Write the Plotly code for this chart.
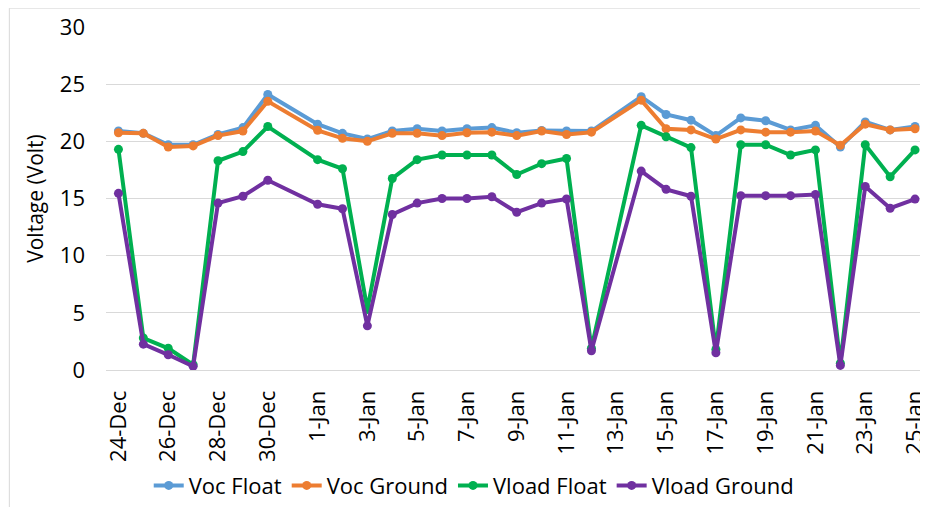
'''
    Voltage line chart, Voc / Vload for float and ground mounting.
'''

import plotly.graph_objects as go

dates = ['2018-12-24', '2018-12-25', '2018-12-26', '2018-12-27', '2018-12-28',
         '2018-12-29', '2018-12-30', '2019-01-01', '2019-01-02', '2019-01-03',
         '2019-01-04', '2019-01-05', '2019-01-06', '2019-01-07', '2019-01-08',
         '2019-01-09', '2019-01-10', '2019-01-11', '2019-01-12', '2019-01-14',
         '2019-01-15', '2019-01-16', '2019-01-17', '2019-01-18', '2019-01-19',
         '2019-01-20', '2019-01-21', '2019-01-22', '2019-01-23', '2019-01-24',
         '2019-01-25']

voc_float = [20.9, 20.7, 19.7, 19.7, 20.6, 21.2, 24.1, 21.5, 20.7, 20.2,
             20.9, 21.1, 20.9, 21.1, 21.2, 20.75, 20.95, 20.9, 20.9, 23.9,
             22.35, 21.85, 20.5, 22.05, 21.8, 21.0, 21.4, 19.5, 21.7, 21.0, 21.3]

voc_ground = [20.75, 20.7, 19.5, 19.6, 20.5, 20.9, 23.5, 20.96, 20.26, 20.0,
              20.7, 20.7, 20.5, 20.75, 20.8, 20.5, 20.9, 20.6, 20.8, 23.6,
              21.1, 21.0, 20.2, 21.0, 20.8, 20.8, 20.9, 19.65, 21.5, 21.0, 21.1]

vload_float = [19.3, 2.8, 1.9, 0.46, 18.3, 19.1, 21.3, 18.4, 17.6, 5.3,
               16.75, 18.4, 18.8, 18.8, 18.8, 17.1, 18.05, 18.5, 1.9, 21.4,
               20.4, 19.45, 1.8, 19.7, 19.7, 18.8, 19.25, 0.6, 19.7, 16.9, 19.25]

vload_ground = [15.45, 2.26, 1.33, 0.32, 14.6, 15.2, 16.6, 14.5, 14.1, 3.86,
                13.6, 14.6, 15.0, 15.0, 15.15, 13.8, 14.6, 14.96, 1.68, 17.4,
                15.8, 15.2, 1.5, 15.25, 15.25, 15.25, 15.35, 0.4, 16.05, 14.15, 14.95]

series = [
    ('Voc Float', voc_float, '#5B9BD5'),
    ('Voc Ground', voc_ground, '#ED7D31'),
    ('Vload Float', vload_float, '#00B050'),
    ('Vload Ground', vload_ground, '#7030A0'),
]

FONT = 'Open Sans'

fig = go.Figure()
for name, values, color in series:
    fig.add_trace(go.Scatter(
        x=dates, y=values, name=name,
        mode='lines+markers',
        line=dict(color=color, width=4),
        marker=dict(color=color, size=9),
    ))

# page body has an 8px margin, so the figure is sized to end at the window edge
fig.update_layout(
    width=920, height=499,
    margin=dict(l=98, r=0, t=19, b=131),
    paper_bgcolor='white', plot_bgcolor='white',
    font=dict(family=FONT, size=22, color='#000000'),
    showlegend=True,
    legend=dict(orientation='h', x=0.449, xanchor='center', y=-0.337, yanchor='middle',
                font=dict(size=22), itemwidth=30, tracegroupgap=0),
    shapes=[dict(type='rect', xref='paper', yref='paper',
                 x0=-0.118, x1=1.2, y0=-0.6, y1=1.055,
                 line=dict(color='#d9d9d9', width=1))],
)

fig.update_xaxes(
    type='date',
    range=['2018-12-23 12:00', '2019-01-25 09:36'],
    tick0='2018-12-24', dtick=2 * 86400000,
    tickformat='%-d-%b', tickangle=-90,
    tickfont=dict(size=22),
    showgrid=False, showline=True, linecolor='#d9d9d9', linewidth=1,
    ticks='', ticklabelstandoff=11, ticklabeloverflow='allow',
)
fig.update_yaxes(
    range=[0, 30], dtick=5,
    showgrid=True, gridcolor='#d9d9d9', gridwidth=1,
    zeroline=False, showline=False,
    tickfont=dict(size=22), ticklabelstandoff=20,
    title=dict(text='Voltage (Volt)', font=dict(size=21), standoff=10),
)

fig.write_html('out.html')
